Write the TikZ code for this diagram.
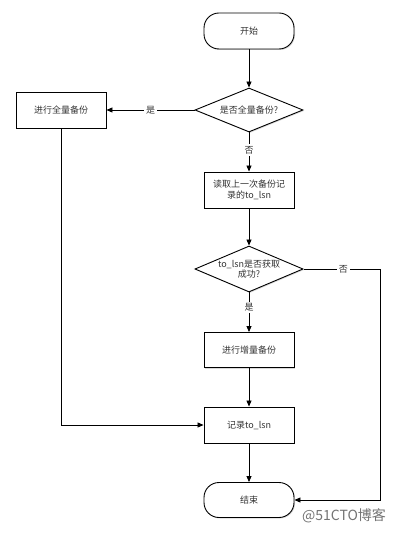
\documentclass[tikz,border=0pt]{standalone}
\usepackage{fontspec}
\newfontfamily\cjk{Noto Sans CJK SC}
\usepackage{tikz}
\usetikzlibrary{arrows.meta}
\usetikzlibrary{shapes.geometric}
\usetikzlibrary{shadows}

\begin{document}
\begin{tikzpicture}[x=1pt,y=-1pt,
  box/.style={draw, fill=white, line width=0.9pt, minimum width=90pt, minimum height=36pt,
    align=center, font=\cjk\fontsize{9}{10.5}\selectfont, text=black!80,
    drop shadow={shadow xshift=1pt,shadow yshift=-1pt,opacity=0.3}},
  term/.style={box, rounded corners=15pt},
  ask/.style={box, diamond, aspect=2.45, minimum width=108pt, minimum height=44pt, inner sep=0pt},
  lbl/.style={fill=white, inner sep=2pt, font=\cjk\fontsize{9}{10.5}\selectfont, text=black!80},
  flow/.style={line width=0.8pt, -{Triangle[length=6pt,width=5pt]}}]
\useasboundingbox (0,0) rectangle (404,534);
% draws nodes
\node[term] (start) at (249,31) {开始};
\node[ask] (askfull) at (249,110) {是否全量备份?};
\node[box] (full) at (61,110) {进行全量备份};
\node[box] (readlsn) at (249,190) {读取上一次备份记\\录的to\_lsn};
\node[ask, minimum height=46pt] (asklsn) at (249,269) {to\_lsn是否获取\\成功?};
\node[box, minimum height=35pt] (incr) at (249,350) {进行增量备份};
\node[box] (savelsn) at (249,425) {记录to\_lsn};
\node[term, minimum height=35pt] (stop) at (249,500) {结束};
% corner points
\coordinate (fulldown) at (61,425);
\coordinate (nolsn) at (380,269);
\coordinate (nolsndown) at (380,500);
% draws edges
\draw[flow] (start) -- (askfull);
\draw[flow] (askfull) -- node[lbl, pos=0.5] {是} (full);
\draw[flow] (askfull) -- node[lbl, pos=0.45] {否} (readlsn);
\draw[flow] (readlsn) -- (asklsn);
\draw[flow] (asklsn) -- node[lbl, pos=0.38] {是} (incr);
\draw[flow] (asklsn.east) -- node[lbl, pos=0.52] {否} (nolsn) -- (nolsndown) -- (stop.east);
\draw[flow] (incr) -- (savelsn);
\draw[flow] (full) -- (fulldown) -- (savelsn.west);
\draw[flow] (savelsn) -- (stop);
% watermark
\node[font=\cjk\fontsize{14}{16}\selectfont, text=black!55] (mark) at (344,516) {@51CTO博客};
\end{tikzpicture}
\end{document}
